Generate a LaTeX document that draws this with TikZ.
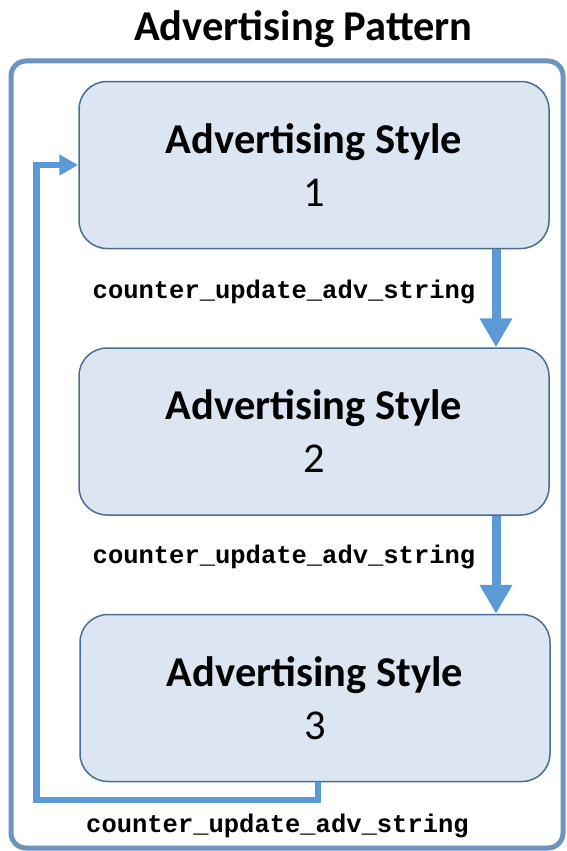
\documentclass[tikz,border=0pt]{standalone}
\usepackage{fontspec}
\setmainfont{Carlito}
\newfontfamily\monof{Liberation Mono}
\usetikzlibrary{arrows.meta}
\definecolor{boxfill}{HTML}{DCE6F2}
\definecolor{boxline}{HTML}{4A6E92}
\definecolor{framec}{HTML}{6D93C0}
\definecolor{arrowc}{HTML}{5B9BD5}
\begin{document}
\begin{tikzpicture}[x=1pt,y=-1pt,
  stylebox/.style={draw=boxline,fill=boxfill,line width=1.5pt,rounded corners=28pt,
    minimum width=470pt,minimum height=167pt,align=center,inner sep=0pt,
    font=\fontsize{42.5}{53}\selectfont},
  flow/.style={draw=arrowc,line width=9pt,-{Triangle[length=29pt,width=31pt]}},
  fb/.style={draw=arrowc,line width=6.5pt,line join=miter,-{Triangle[length=19pt,width=20pt]}},
  lbl/.style={font=\monof\bfseries\fontsize{25.5}{28}\selectfont,inner sep=0pt}]
\useasboundingbox (0,0) rectangle (566,851);
\fill[white] (0,0) rectangle (566,851);
\draw[framec,line width=5pt,rounded corners=15pt] (11,61) rectangle (563,848);
\node[anchor=base,font=\bfseries\fontsize{42.5}{48}\selectfont] (title) at (303.5,41) {Advertising Pattern};
\node[stylebox] (b1) at (314,165) {\textbf{Advertising Style}\\1};
\node[stylebox] (b2) at (314,431.5) {\textbf{Advertising Style}\\2};
\node[stylebox] (b3) at (315,698) {\textbf{Advertising Style}\\3};
\coordinate (ax) at (496,0);
\draw[flow] (b1.south -| ax) -- (b2.north -| ax);
\draw[flow] (b2.south -| ax) -- (b3.north -| ax);
\coordinate (fbx) at (318,0);
\coordinate (fbl) at (36.5,800);
\draw[fb] (b3.south -| fbx) |- (fbl) |- (b1.west);
\node[lbl] (l1) at (284,292) {counter\_update\_adv\_string};
\node[lbl] (l2) at (284,557) {counter\_update\_adv\_string};
\node[lbl] (l3) at (277.5,826) {counter\_update\_adv\_string};
\end{tikzpicture}
\end{document}
